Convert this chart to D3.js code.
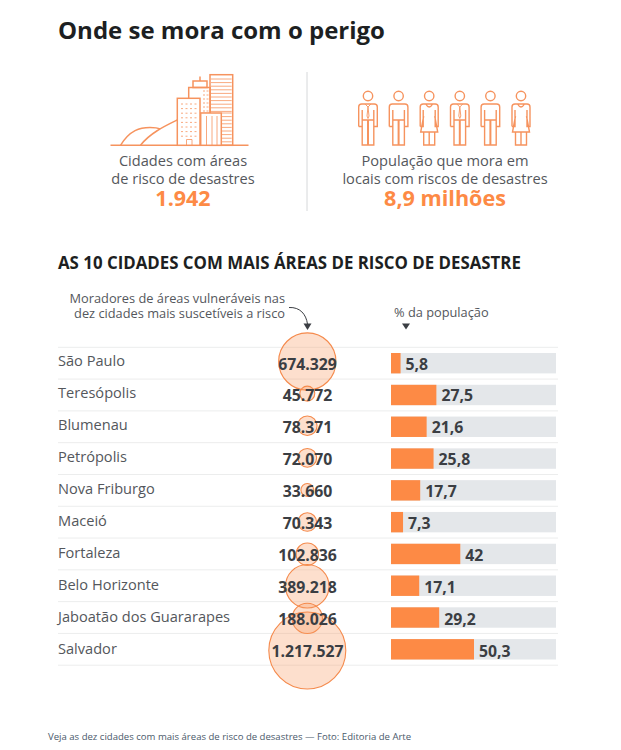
<!DOCTYPE html>
<html><head><meta charset="utf-8">
<script src="https://cdn.jsdelivr.net/npm/d3@7"></script>
<style>html,body{margin:0;padding:0;background:#fff}svg{display:block}text{font-family:"Open Sans",sans-serif}</style>
</head><body><svg id="c" width="621" height="750"></svg>
<script>
const cities=["São Paulo","Teresópolis","Blumenau","Petrópolis","Nova Friburgo","Maceió","Fortaleza","Belo Horizonte","Jaboatão dos Guararapes","Salvador"];
const residents=[674329,45772,78371,72070,33660,70343,102836,389218,188026,1217527];
const residentLabels=["674.329","45.772","78.371","72.070","33.660","70.343","102.836","389.218","188.026","1.217.527"];
const shares=[5.8,27.5,21.6,25.8,17.7,7.3,42,17.1,29.2,50.3];
const shareLabels=["5,8","27,5","21,6","25,8","17,7","7,3","42","17,1","29,2","50,3"];
const people=["tie","man","woman","tie","man","woman"];

const ORANGE="#fd8a45",LINE="#f6935e",INK="#3b3e43",GREY="#54575c";
const svg=d3.select("#c");
function txt(x,y,s,size,weight,fill,anchor){return svg.append("text").attr("x",x).attr("y",y).attr("font-size",size).attr("font-weight",weight||400).attr("fill",fill||GREY).attr("text-anchor",anchor||"start").text(s);}

txt(58,38.5,"Onde se mora com o perigo",24,700,"#1d1f22");

// Divider
svg.append("line").attr("x1",307).attr("x2",307).attr("y1",72).attr("y2",211).attr("stroke","#d6d8da").attr("stroke-width",1);

// Skyline icon
const sky=svg.append("g").attr("fill","none").attr("stroke",LINE).attr("stroke-width",1.5);
sky.append("path").attr("d","M110.5 145.3H248.5");
sky.append("path").attr("d","M120.5 145.3C130 130 140 127.5 150 127.5C156 127.5 158 128 160 129M140.5 145.3C150 133 165 126 177.3 120");
[[210,74.7,22.7,70.6],[188.7,87.5,21.5,26],[177.3,98.3,22.7,47],[200.7,113,20.6,32.3],[193,81,14,6.5]].forEach(r=>
  sky.append("rect").attr("x",r[0]).attr("y",r[1]).attr("width",r[2]).attr("height",r[3]).attr("fill",r[0]===177.3||r[0]===200.7?"#fff":"none"));
sky.append("path").attr("d","M200 76.5V81");
const fine=sky.append("g").attr("stroke-width",.8);
d3.range(79,113,3.6).forEach(y=>fine.append("path").attr("d",`M211 ${y}H231.7`));
d3.range(113,143,3.6).forEach(y=>fine.append("path").attr("d",`M222 ${y}H231.7`));
[206.5,212,217].forEach(x=>fine.append("path").attr("d",`M${x} 116V145`));
d3.range(104,137,4.6).forEach(y=>{[182,186.5,191,195.5].forEach(x=>fine.append("path").attr("stroke-dasharray","2 1").attr("d",`M${x-1} ${y}H${x+1.4}`));});
d3.range(91,114,4).forEach(y=>{[204,207.5].forEach(x=>fine.append("path").attr("d",`M${x-1} ${y}H${x+1}`));});
fine.append("path").attr("d","M186.5 145V139.5H192V145");

txt(183,166,"Cidades com áreas",14.6,400,GREY,"middle");
txt(183,184,"de risco de desastres",14.6,400,GREY,"middle");
txt(183,205.5,"1.942",21.5,700,ORANGE,"middle");

// People icons
const xPeople=d3.scalePoint().domain(d3.range(people.length)).range([368,521]);
people.forEach((kind,i)=>{
  const g=svg.append("g").attr("transform",`translate(${xPeople(i)},0)`).attr("fill","none").attr("stroke",LINE).attr("stroke-width",1.4);
  g.append("circle").attr("cy",96).attr("r",4.7);
  if(kind==="woman"){
    g.append("path").attr("d","M-9 126.5V107Q-9 104 -6 104H6Q9 104 9 107V126.5H6V110M-6 110V126.5H-9M-5.5 116L-8.5 132H8.5L5.5 116M-5.5 132V145H5.5V132M0 132V145M-3.5 104Q0 110 3.5 104");
  } else {
    g.append("path").attr("d","M-9.3 126.5V107Q-9.3 104 -6.3 104H6.3Q9.3 104 9.3 107V126.5H5.8V110M-5.8 110V126.5H-9.3M-5.8 126.5V145H-.3V120M5.8 126.5V145H.3V120M-5.8 120H5.8");
    if(kind==="tie") g.append("path").attr("stroke-width",.9).attr("d","M-3 104L0 107L3 104M0 107L-1 116L0 118.5L1 116L0 107");
  }
});

txt(445,165.5,"População que mora em",14.65,400,GREY,"middle");
txt(445,183.5,"locais com riscos de desastres",14.65,400,GREY,"middle");
txt(445,205.5,"8,9 milhões",21.6,700,ORANGE,"middle");

txt(58,269,"AS 10 CIDADES COM MAIS ÁREAS DE RISCO DE DESASTRE",16.85,700,"#1d1f22");

// Column notes
txt(285,303,"Moradores de áreas vulneráveis nas",12.8,400,GREY,"end");
txt(285,317.5,"dez cidades mais suscetíveis a risco",12.8,400,GREY,"end");
svg.append("path").attr("d","M289 307.5C300 307 306 314 307.5 324").attr("fill","none").attr("stroke",INK).attr("stroke-width",1);
svg.append("path").attr("d","M303.5 323.5H311.5L307.5 330Z").attr("fill",INK);
txt(394,317,"% da população",12.8,400,GREY);
svg.append("path").attr("d","M402 323.5H410L406 329.5Z").attr("fill",INK);

// Scales
const rowY=d3.scaleBand().domain(cities).range([347.3,665.2]);
const circleY=d3.scalePoint().domain(cities).range([361.5,650.5]);
const labelY=d3.scalePoint().domain(cities).range([365.5,654]);
const valueY=d3.scalePoint().domain(cities).range([369.5,657]);
const barX=d3.scaleLinear().domain([0,100]).range([391,556]);
const r=d3.scaleSqrt().domain([0,d3.max(residents)]).range([0,38.5]);

// Row rules
svg.append("g").selectAll("line").data([...cities,"_end"]).join("line")
  .attr("x1",58).attr("x2",558)
  .attr("y1",d=>d==="_end"?rowY.range()[1]:rowY(d)).attr("y2",d=>d==="_end"?rowY.range()[1]:rowY(d))
  .attr("stroke","#eceded").attr("stroke-width",1);

svg.append("g").selectAll("text").data(cities).join("text")
  .attr("x",58).attr("y",d=>labelY(d)).attr("font-size",14.6).attr("fill",GREY).text(d=>d);

// Circles
svg.append("g").selectAll("circle").data(cities).join("circle")
  .attr("cx",307.3).attr("cy",d=>circleY(d)).attr("r",(d,i)=>r(residents[i]))
  .attr("fill","#f89a63").attr("fill-opacity",.32).attr("stroke","#f58a4c").attr("stroke-width",1.1);
svg.append("g").selectAll("text").data(cities).join("text")
  .attr("x",307.5).attr("y",d=>valueY(d)).attr("text-anchor","middle")
  .attr("font-size",15.8).attr("font-weight",700).attr("fill",INK).text((d,i)=>residentLabels[i]);

// Bars
const h=20.4;
svg.append("g").selectAll("rect").data(cities).join("rect")
  .attr("x",barX(0)).attr("width",barX(100)-barX(0))
  .attr("y",d=>rowY(d)+rowY.bandwidth()/2-h/2).attr("height",h).attr("fill","#e4e7ea");
svg.append("g").selectAll("rect").data(cities).join("rect")
  .attr("x",barX(0)).attr("width",(d,i)=>barX(shares[i])-barX(0))
  .attr("y",d=>rowY(d)+rowY.bandwidth()/2-h/2).attr("height",h).attr("fill",ORANGE);
svg.append("g").selectAll("text").data(cities).join("text")
  .attr("x",(d,i)=>barX(shares[i])+5).attr("y",d=>valueY(d))
  .attr("font-size",15.8).attr("font-weight",700).attr("fill",INK).text((d,i)=>shareLabels[i]);

txt(48,740,"Veja as dez cidades com mais áreas de risco de desastres — Foto: Editoria de Arte",9.57,400,"#4b5a6b");
</script></body></html>
